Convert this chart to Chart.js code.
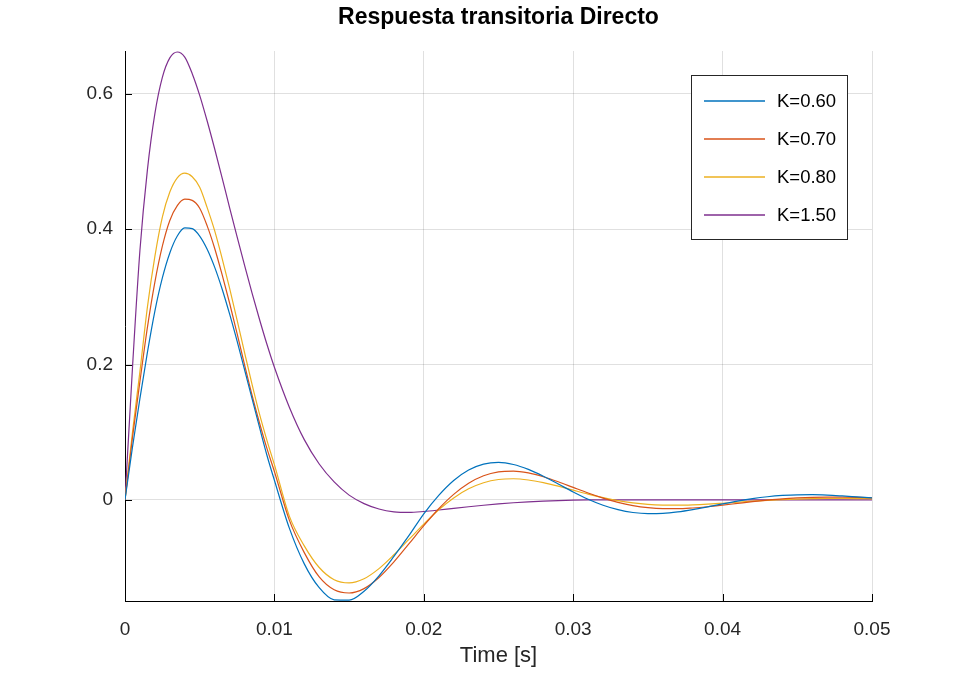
<!DOCTYPE html>
<html>
<head>
<meta charset="utf-8">
<title>Respuesta transitoria Directo</title>
<script src="https://cdn.jsdelivr.net/npm/chart.js@4.4.1/dist/chart.umd.min.js"></script>
<style>
    html, body { margin: 0; padding: 0; background: #fff; }
    canvas { display: block; }
</style>
</head>
<body>
<canvas id="chart" width="964" height="676"></canvas>
<script>
// time axis [s]
const times = [
    0, 0.0005, 0.001, 0.0015, 0.002, 0.0025, 0.003, 0.0035, 0.004, 0.0045, 0.005,
    0.0055, 0.006, 0.0065, 0.007, 0.0075, 0.008, 0.0085, 0.009, 0.0095, 0.01,
    0.011, 0.012, 0.013, 0.014, 0.015, 0.016, 0.017, 0.018, 0.019, 0.02,
    0.021, 0.022, 0.023, 0.024, 0.025, 0.026, 0.027, 0.028, 0.029, 0.03,
    0.031, 0.032, 0.033, 0.034, 0.035, 0.036, 0.037, 0.038, 0.039, 0.04,
    0.041, 0.042, 0.043, 0.044, 0.045, 0.046, 0.047, 0.048, 0.049, 0.05
];

// respuesta para cada ganancia K
const k060 = [
    0, 0.078, 0.150, 0.218, 0.279, 0.328, 0.365, 0.390, 0.402, 0.401, 0.390,
    0.3705, 0.344, 0.3117, 0.2748, 0.2349, 0.1927, 0.1499, 0.1074, 0.0660, 0.0290,
    -0.0418, -0.0946, -0.1299, -0.1478, -0.1482, -0.1350, -0.1122, -0.0836, -0.0530, -0.0206,
    0.0067, 0.0287, 0.0442, 0.0529, 0.0554, 0.0523, 0.0450, 0.0349, 0.0234, 0.0117,
    0.0010, -0.0079, -0.0145, -0.0187, -0.0204, -0.0200, -0.0178, -0.0144, -0.0103, -0.0059,
    -0.0018, 0.0018, 0.0046, 0.0065, 0.0075, 0.0076, 0.0070, 0.0058, 0.0044, 0.0030
];
const k070 = [
    0, 0.092, 0.175, 0.255, 0.322, 0.375, 0.413, 0.435, 0.4444, 0.4427, 0.4311,
    0.405, 0.372, 0.333, 0.291, 0.246, 0.200, 0.155, 0.114, 0.076, 0.042,
    -0.030, -0.078, -0.114, -0.133, -0.1377, -0.1312, -0.1148, -0.0917, -0.0651, -0.0381,
    -0.0131, 0.0081, 0.0245, 0.0356, 0.0414, 0.0426, 0.0398, 0.0342, 0.0268, 0.0184,
    0.0101, 0.0026, -0.0037, -0.0084, -0.0115, -0.0130, -0.0131, -0.0120, -0.0102, -0.0078,
    -0.0052, -0.0026, -0.0004, 0.0015, 0.0028, 0.0037, 0.0041, 0.0040, 0.0036, 0.0030
];
const k080 = [
    0, 0.100, 0.190, 0.285, 0.360, 0.418, 0.455, 0.476, 0.4829, 0.4776, 0.4621,
    0.432, 0.398, 0.357, 0.313, 0.266, 0.218, 0.171, 0.127, 0.088, 0.052,
    -0.024, -0.068, -0.100, -0.118, -0.1227, -0.1166, -0.1016, -0.0811, -0.0585, -0.0359,
    -0.0146, 0.0029, 0.0163, 0.0253, 0.0301, 0.0312, 0.0294, 0.0254, 0.0202, 0.0143,
    0.0085, 0.0033, -0.0011, -0.0044, -0.0066, -0.0077, -0.0079, -0.0074, -0.0064, -0.0050,
    -0.0035, -0.0020, -0.0007, 0.0004, 0.0012, 0.0017, 0.0020, 0.0020, 0.0019, 0.0016
];
const k150 = [
    0, 0.195, 0.369, 0.4878, 0.571, 0.6245, 0.6533, 0.662, 0.6545, 0.630, 0.598,
    0.560, 0.519, 0.476, 0.432, 0.389, 0.347, 0.306, 0.267, 0.230, 0.196,
    0.137, 0.089, 0.053, 0.0265, 0.007, -0.0055, -0.0135, -0.0177, -0.0186, -0.0172,
    -0.0150, -0.0125, -0.0102, -0.0080, -0.0060, -0.0043, -0.0029, -0.0018, -0.0010, -0.0004,
    -0.0001, 0, 0, 0, 0, 0, 0, 0, 0, 0,
    0, 0, 0, 0, 0, 0, 0, 0, 0, 0
];

const seriesLabels = ['K=0.60', 'K=0.70', 'K=0.80', 'K=1.50'];
const seriesValues = [k060, k070, k080, k150];
const seriesColors = ['#0072BD', '#D95319', '#EDB120', '#7E2F8E'];

const xTicks = [0, 0.01, 0.02, 0.03, 0.04, 0.05];
const yTicks = [0, 0.2, 0.4, 0.6];

const FONT = '"Liberation Sans", Arial, Helvetica, sans-serif';
const TEXT = '#262626';

// titulo, etiqueta del eje x, marcas hacia dentro y leyenda
const overlay = {
    id: 'overlay',
    afterDraw(chart) {
        const { ctx, chartArea: area, scales } = chart;
        ctx.save();

        // marcas de los ejes (hacia dentro)
        ctx.strokeStyle = '#000';
        ctx.lineWidth = 1;
        ctx.beginPath();
        xTicks.forEach(v => {
            const x = Math.round(scales.x.getPixelForValue(v)) + 0.5;
            ctx.moveTo(x, area.bottom);
            ctx.lineTo(x, area.bottom - 7);
        });
        yTicks.forEach(v => {
            const y = Math.round(scales.y.getPixelForValue(v)) + 0.5;
            ctx.moveTo(area.left, y);
            ctx.lineTo(area.left + 7, y);
        });
        ctx.stroke();

        // titulo
        ctx.fillStyle = '#000';
        ctx.font = 'bold 23px ' + FONT;
        ctx.textAlign = 'center';
        ctx.textBaseline = 'middle';
        ctx.fillText('Respuesta transitoria Directo', (area.left + area.right) / 2, 18);

        // etiqueta eje x
        ctx.fillStyle = TEXT;
        ctx.font = '22px ' + FONT;
        ctx.fillText('Time [s]', (area.left + area.right) / 2, 656);

        // leyenda
        const box = { x: 691.5, y: 75.5, w: 156, h: 164 };
        ctx.fillStyle = '#fff';
        ctx.fillRect(box.x, box.y, box.w, box.h);
        ctx.strokeStyle = '#262626';
        ctx.lineWidth = 1;
        ctx.strokeRect(box.x, box.y, box.w, box.h);
        ctx.font = '18.5px ' + FONT;
        ctx.textAlign = 'left';
        seriesLabels.forEach((label, i) => {
            const y = 101 + i * 38;
            ctx.strokeStyle = seriesColors[i];
            ctx.lineWidth = 1.3;
            ctx.beginPath();
            ctx.moveTo(704, y);
            ctx.lineTo(765, y);
            ctx.stroke();
            ctx.fillStyle = '#000';
            ctx.fillText(label, 777, y + 1);
        });

        ctx.restore();
    }
};

new Chart(document.getElementById('chart'), {
    type: 'line',
    data: {
        datasets: seriesValues.map((vals, i) => ({
            label: seriesLabels[i],
            data: times.map((t, j) => ({ x: t, y: vals[j] })),
            borderColor: seriesColors[i],
            borderWidth: 1.2,
            pointRadius: 0,
            cubicInterpolationMode: 'monotone',
            fill: false
        }))
    },
    options: {
        responsive: false,
        animation: false,
        devicePixelRatio: 1,
        layout: { padding: { top: 51, right: 92, left: 0, bottom: 0 } },
        plugins: {
            legend: { display: false },
            title: { display: false },
            tooltip: { enabled: false }
        },
        scales: {
            x: {
                type: 'linear',
                min: 0,
                max: 0.05,
                afterBuildTicks: scale => { scale.ticks = xTicks.map(v => ({ value: v })); },
                afterFit: scale => { scale.height = 75; },
                ticks: {
                    color: TEXT,
                    font: { family: FONT, size: 19 },
                    padding: 17,
                    maxRotation: 0,
                    callback: v => v === 0 ? '0' : v.toFixed(2)
                },
                grid: { color: 'rgba(0,0,0,0.12)', drawTicks: false },
                border: { display: true, color: '#000', width: 1 }
            },
            y: {
                type: 'linear',
                min: -0.1495,
                max: 0.6635,
                afterBuildTicks: scale => { scale.ticks = yTicks.map(v => ({ value: v })); },
                afterFit: scale => { scale.width = 125; },
                ticks: {
                    color: TEXT,
                    font: { family: FONT, size: 19 },
                    padding: 12,
                    callback: v => v === 0 ? '0' : v.toFixed(1)
                },
                grid: { color: 'rgba(0,0,0,0.12)', drawTicks: false },
                border: { display: true, color: '#000', width: 1 }
            }
        }
    },
    plugins: [overlay]
});
</script>
</body>
</html>
